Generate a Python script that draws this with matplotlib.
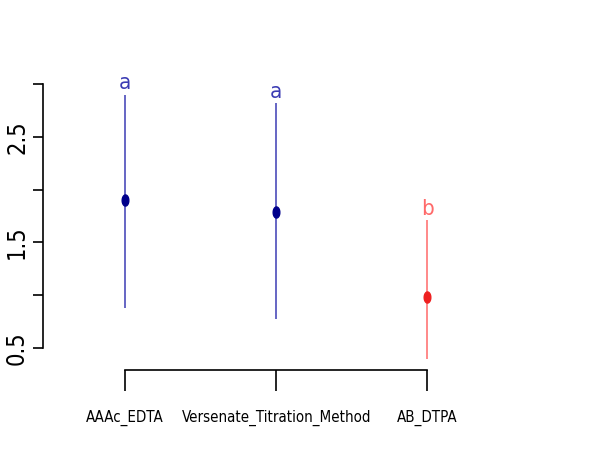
import numpy as np
import matplotlib.pyplot as plt
from matplotlib.path import Path

# values
methods = ['AAAc_EDTA', 'Versenate_Titration_Method', 'AB_DTPA']
means = [1.90, 1.79, 0.98]
upper = [2.90, 2.82, 1.71]
lower = [0.88, 0.77, 0.39]
letters = ['a', 'a', 'b']
point_colors = ['#00008b', '#00008b', '#ee2020']
line_colors = ['#3c3cb4', '#3c3cb4', '#ff6a6a']

plt.rcParams['font.family'] = ['DejaVu Sans']
plt.rcParams['font.stretch'] = 'condensed'

fig = plt.figure(figsize=(5.95, 4.63), dpi=100)
W, H = 595, 463
left_px, right_px, top_px, bot_px = 43, 518, 84, 370
ax = fig.add_axes([left_px / W, 1 - bot_px / H, (right_px - left_px) / W, (bot_px - top_px) / H])

# tall ellipse marker (the reference looks stretched vertically)
t = np.linspace(0, 2 * np.pi, 40)
ellipse = Path(np.column_stack([0.6 * np.cos(t), np.sin(t)]))

x = np.arange(1, len(methods) + 1)
for i in range(len(methods)):
    ax.vlines(x[i], lower[i], upper[i], color=line_colors[i], lw=1.1)
    ax.plot(x[i], means[i], marker=ellipse, ms=8, color=point_colors[i], ls='none')
    ax.text(x[i], upper[i] + 0.01, letters[i], color=line_colors[i], ha='center', va='bottom',
            fontsize=16, clip_on=False)

ax.set_xlim(0.457, 3.6)
ax.set_ylim(0.29, 3.0)

for s in ['top', 'right']:
    ax.spines[s].set_visible(False)
ax.spines['left'].set_bounds(0.5, 3.0)
ax.spines['bottom'].set_bounds(1, 3)
ax.spines['left'].set_linewidth(1.2)
ax.spines['bottom'].set_linewidth(1.2)

ax.set_yticks([0.5, 1.0, 1.5, 2.0, 2.5, 3.0])
ax.set_yticklabels(['0.5', '', '1.5', '', '2.5', ''], rotation=90, va='center', fontsize=17)
ax.tick_params(axis='y', length=7, width=1.2, pad=3)
ax.set_xticks(x)
ax.set_xticklabels(methods, fontsize=10.8)
ax.tick_params(axis='x', length=15, width=1.2, pad=14)

fig.savefig('out.png', dpi=100)
